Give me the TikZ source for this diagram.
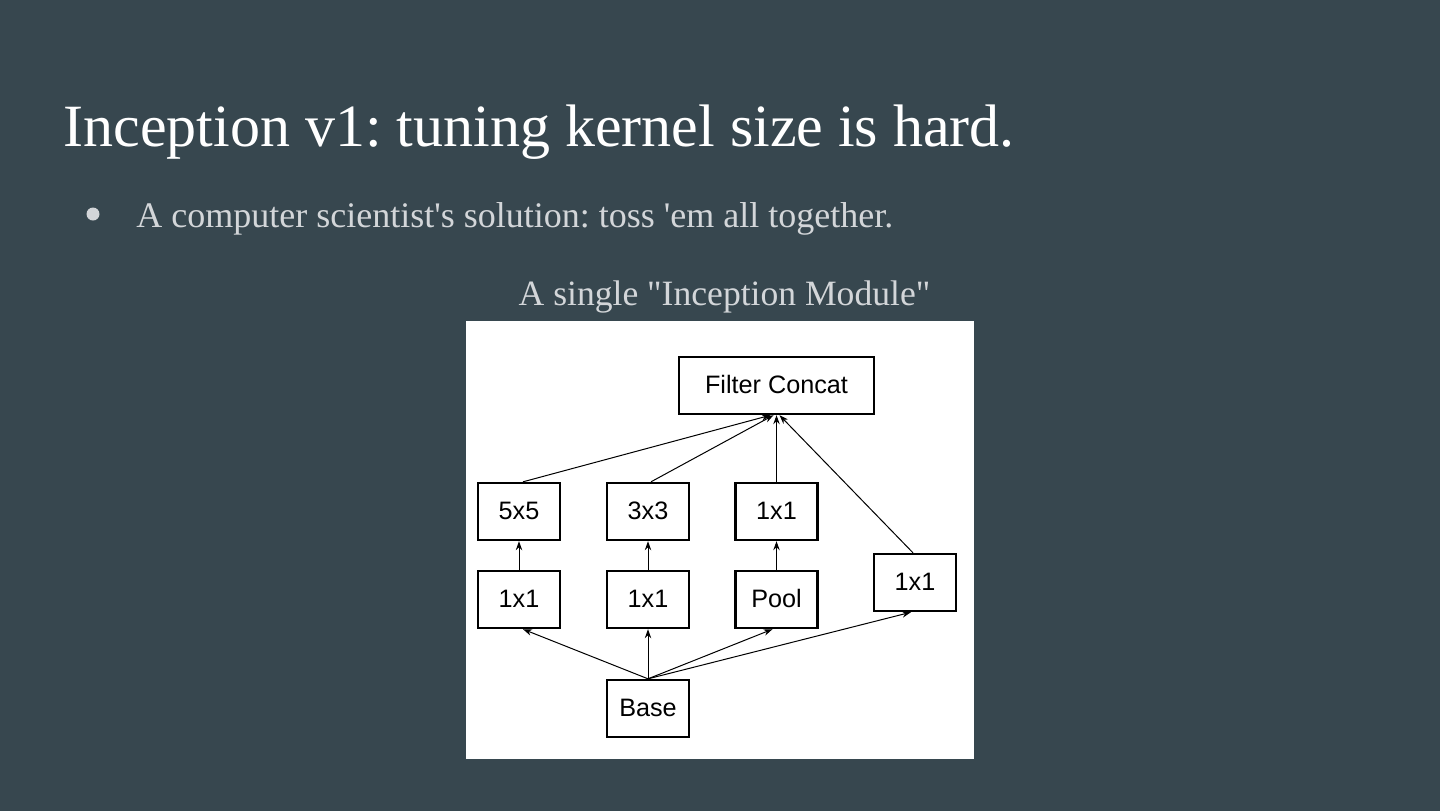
\documentclass[tikz,border=0pt]{standalone}
\usepackage{fontspec}
\setmainfont{Liberation Serif}
\newfontfamily\boxfont{Liberation Sans}
\usetikzlibrary{arrows.meta}
\frenchspacing
\definecolor{slatebg}{HTML}{37474F}
\definecolor{titletext}{HTML}{FFFFFF}
\definecolor{bodytext}{HTML}{D3D6D9}
\definecolor{paper}{HTML}{FFFFFF}
\tikzset{
  layerbox/.style={draw=black, line width=1.2pt, fill=white, inner sep=0pt,
    minimum width=41pt, minimum height=28.5pt, text height=9pt, text depth=1pt,
    font=\boxfont\fontsize{12.6}{14}\selectfont},
  flow/.style={line width=0.5pt, -{Stealth[length=4.5pt, width=3.2pt]}}
}

\begin{document}
\begin{tikzpicture}[x=0.5pt, y=-0.5pt]
    \fill[slatebg] (0,0) rectangle (1440,811);
    \useasboundingbox (0,0) rectangle (1440,811);
    % heading and bullet
    \node[anchor=base west, inner sep=0pt, text=titletext,
      font=\fontsize{30}{36}\selectfont] (title) at (63,146)
      {Inception v1: tuning kernel size is hard.};
    \fill[bodytext] (93,214) circle (6.5);
    \node[anchor=base west, inner sep=0pt, text=bodytext,
      font=\fontsize{18}{22}\selectfont] (point) at (136,227)
      {A computer scientist\textquotesingle s solution: toss \textquotesingle em all together.};
    \node[anchor=base, inner sep=0pt, text=bodytext,
      font=\fontsize{17.8}{22}\selectfont] (caption) at (724.5,305)
      {A single \textquotedbl Inception Module\textquotedbl};
    % the module itself
    \fill[paper] (466,321) rectangle (974,759);
    \node[layerbox, minimum width=97.5pt] (concat) at (776.5,385.5) {Filter Concat};
    \node[layerbox] (five)   at (519,511.5)   {5x5};
    \node[layerbox] (three)  at (648,511.5)   {3x3};
    \node[layerbox] (poolproj) at (776.5,511.5) {1x1};
    \node[layerbox] (onedirect) at (915,582.5) {1x1};
    \node[layerbox] (redfive)  at (519,599.5)   {1x1};
    \node[layerbox] (redthree) at (648,599.5)   {1x1};
    \node[layerbox] (pool)   at (776.5,599.5) {Pool};
    \node[layerbox] (base)   at (648,708.5)   {Base};
    % base to first row
    \draw[flow] (base.north) -- ([xshift=2pt]redfive.south);
    \draw[flow] (base.north) -- (redthree.south);
    \draw[flow] (base.north) -- ([xshift=-2pt]pool.south);
    \draw[flow] (base.north) -- ([xshift=-2pt]onedirect.south);
    % first row to second row
    \draw[flow] (redfive.north) -- (five.south);
    \draw[flow] (redthree.north) -- (three.south);
    \draw[flow] (pool.north) -- (poolproj.south);
    % into the concat
    \draw[flow] ([xshift=2pt]five.north) -- ([xshift=-3pt]concat.south);
    \draw[flow] ([xshift=1.5pt]three.north) -- ([xshift=-1.5pt]concat.south);
    \draw[flow] (poolproj.north) -- (concat.south);
    \draw[flow] ([xshift=-1pt]onedirect.north) -- ([xshift=1.5pt]concat.south);
\end{tikzpicture}
\end{document}
